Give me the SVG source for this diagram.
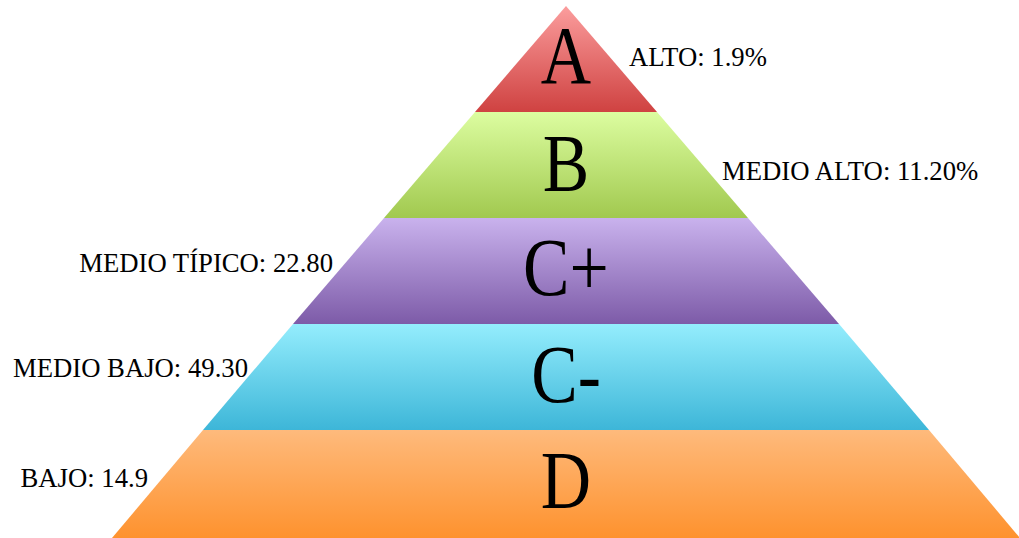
<svg xmlns="http://www.w3.org/2000/svg" width="1019" height="538" viewBox="0 0 1019 538">
  <style>
    .big { font-family: "Liberation Serif", "Times New Roman", serif; font-size: 83px; fill: #000; text-anchor: middle; }
    .lbl { font-family: "Liberation Serif", "Times New Roman", serif; font-size: 26.7px; fill: #000; }
  </style>
  <defs>
    <linearGradient id="gA" x1="0" y1="0" x2="0" y2="1">
      <stop offset="0" stop-color="#fb9d9d"/>
      <stop offset="1" stop-color="#cf4241"/>
    </linearGradient>
    <linearGradient id="gB" x1="0" y1="0" x2="0" y2="1">
      <stop offset="0" stop-color="#dcfda0"/>
      <stop offset="1" stop-color="#a1c94f"/>
    </linearGradient>
    <linearGradient id="gCp" x1="0" y1="0" x2="0" y2="1">
      <stop offset="0" stop-color="#c9b2ed"/>
      <stop offset="1" stop-color="#7d5ba8"/>
    </linearGradient>
    <linearGradient id="gCm" x1="0" y1="0" x2="0" y2="1">
      <stop offset="0" stop-color="#94edfd"/>
      <stop offset="1" stop-color="#3db6d8"/>
    </linearGradient>
    <linearGradient id="gD" x1="0" y1="0" x2="0" y2="1">
      <stop offset="0" stop-color="#feba7c"/>
      <stop offset="1" stop-color="#fe922e"/>
    </linearGradient>
  </defs>

  <rect width="1019" height="538" fill="#fff"/>

  <!-- pyramid tiers, top to bottom -->
  <g id="tier-a">
    <polygon points="566,6 657,112 475,112" fill="url(#gA)"/>
    <text class="big" transform="translate(566,83) scale(0.84,1)">A</text>
  </g>
  <g id="tier-b">
    <polygon points="475,112 657,112 748,218 384,218" fill="url(#gB)"/>
    <text class="big" transform="translate(566,191) scale(0.84,1)">B</text>
  </g>
  <g id="tier-cplus">
    <polygon points="384,218 748,218 839,324 293,324" fill="url(#gCp)"/>
    <text class="big" transform="translate(566,295) scale(0.84,1)">C+</text>
  </g>
  <g id="tier-cminus">
    <polygon points="293,324 839,324 929,430 203,430" fill="url(#gCm)"/>
    <text class="big" transform="translate(566,402) scale(0.84,1)">C-</text>
  </g>
  <g id="tier-d">
    <polygon points="203,430 929,430 1020,538 112,538" fill="url(#gD)"/>
    <text class="big" transform="translate(566,508) scale(0.84,1)">D</text>
  </g>

  <!-- share labels -->
  <g id="labels">
    <text class="lbl" x="629" y="66">ALTO: 1.9%</text>
    <text class="lbl" x="722" y="180">MEDIO ALTO: 11.20%</text>
    <text class="lbl" x="333" y="272" text-anchor="end">MEDIO TÍPICO: 22.80</text>
    <text class="lbl" x="248" y="377" text-anchor="end">MEDIO BAJO: 49.30</text>
    <text class="lbl" x="148" y="487" text-anchor="end">BAJO: 14.9</text>
  </g>
</svg>
